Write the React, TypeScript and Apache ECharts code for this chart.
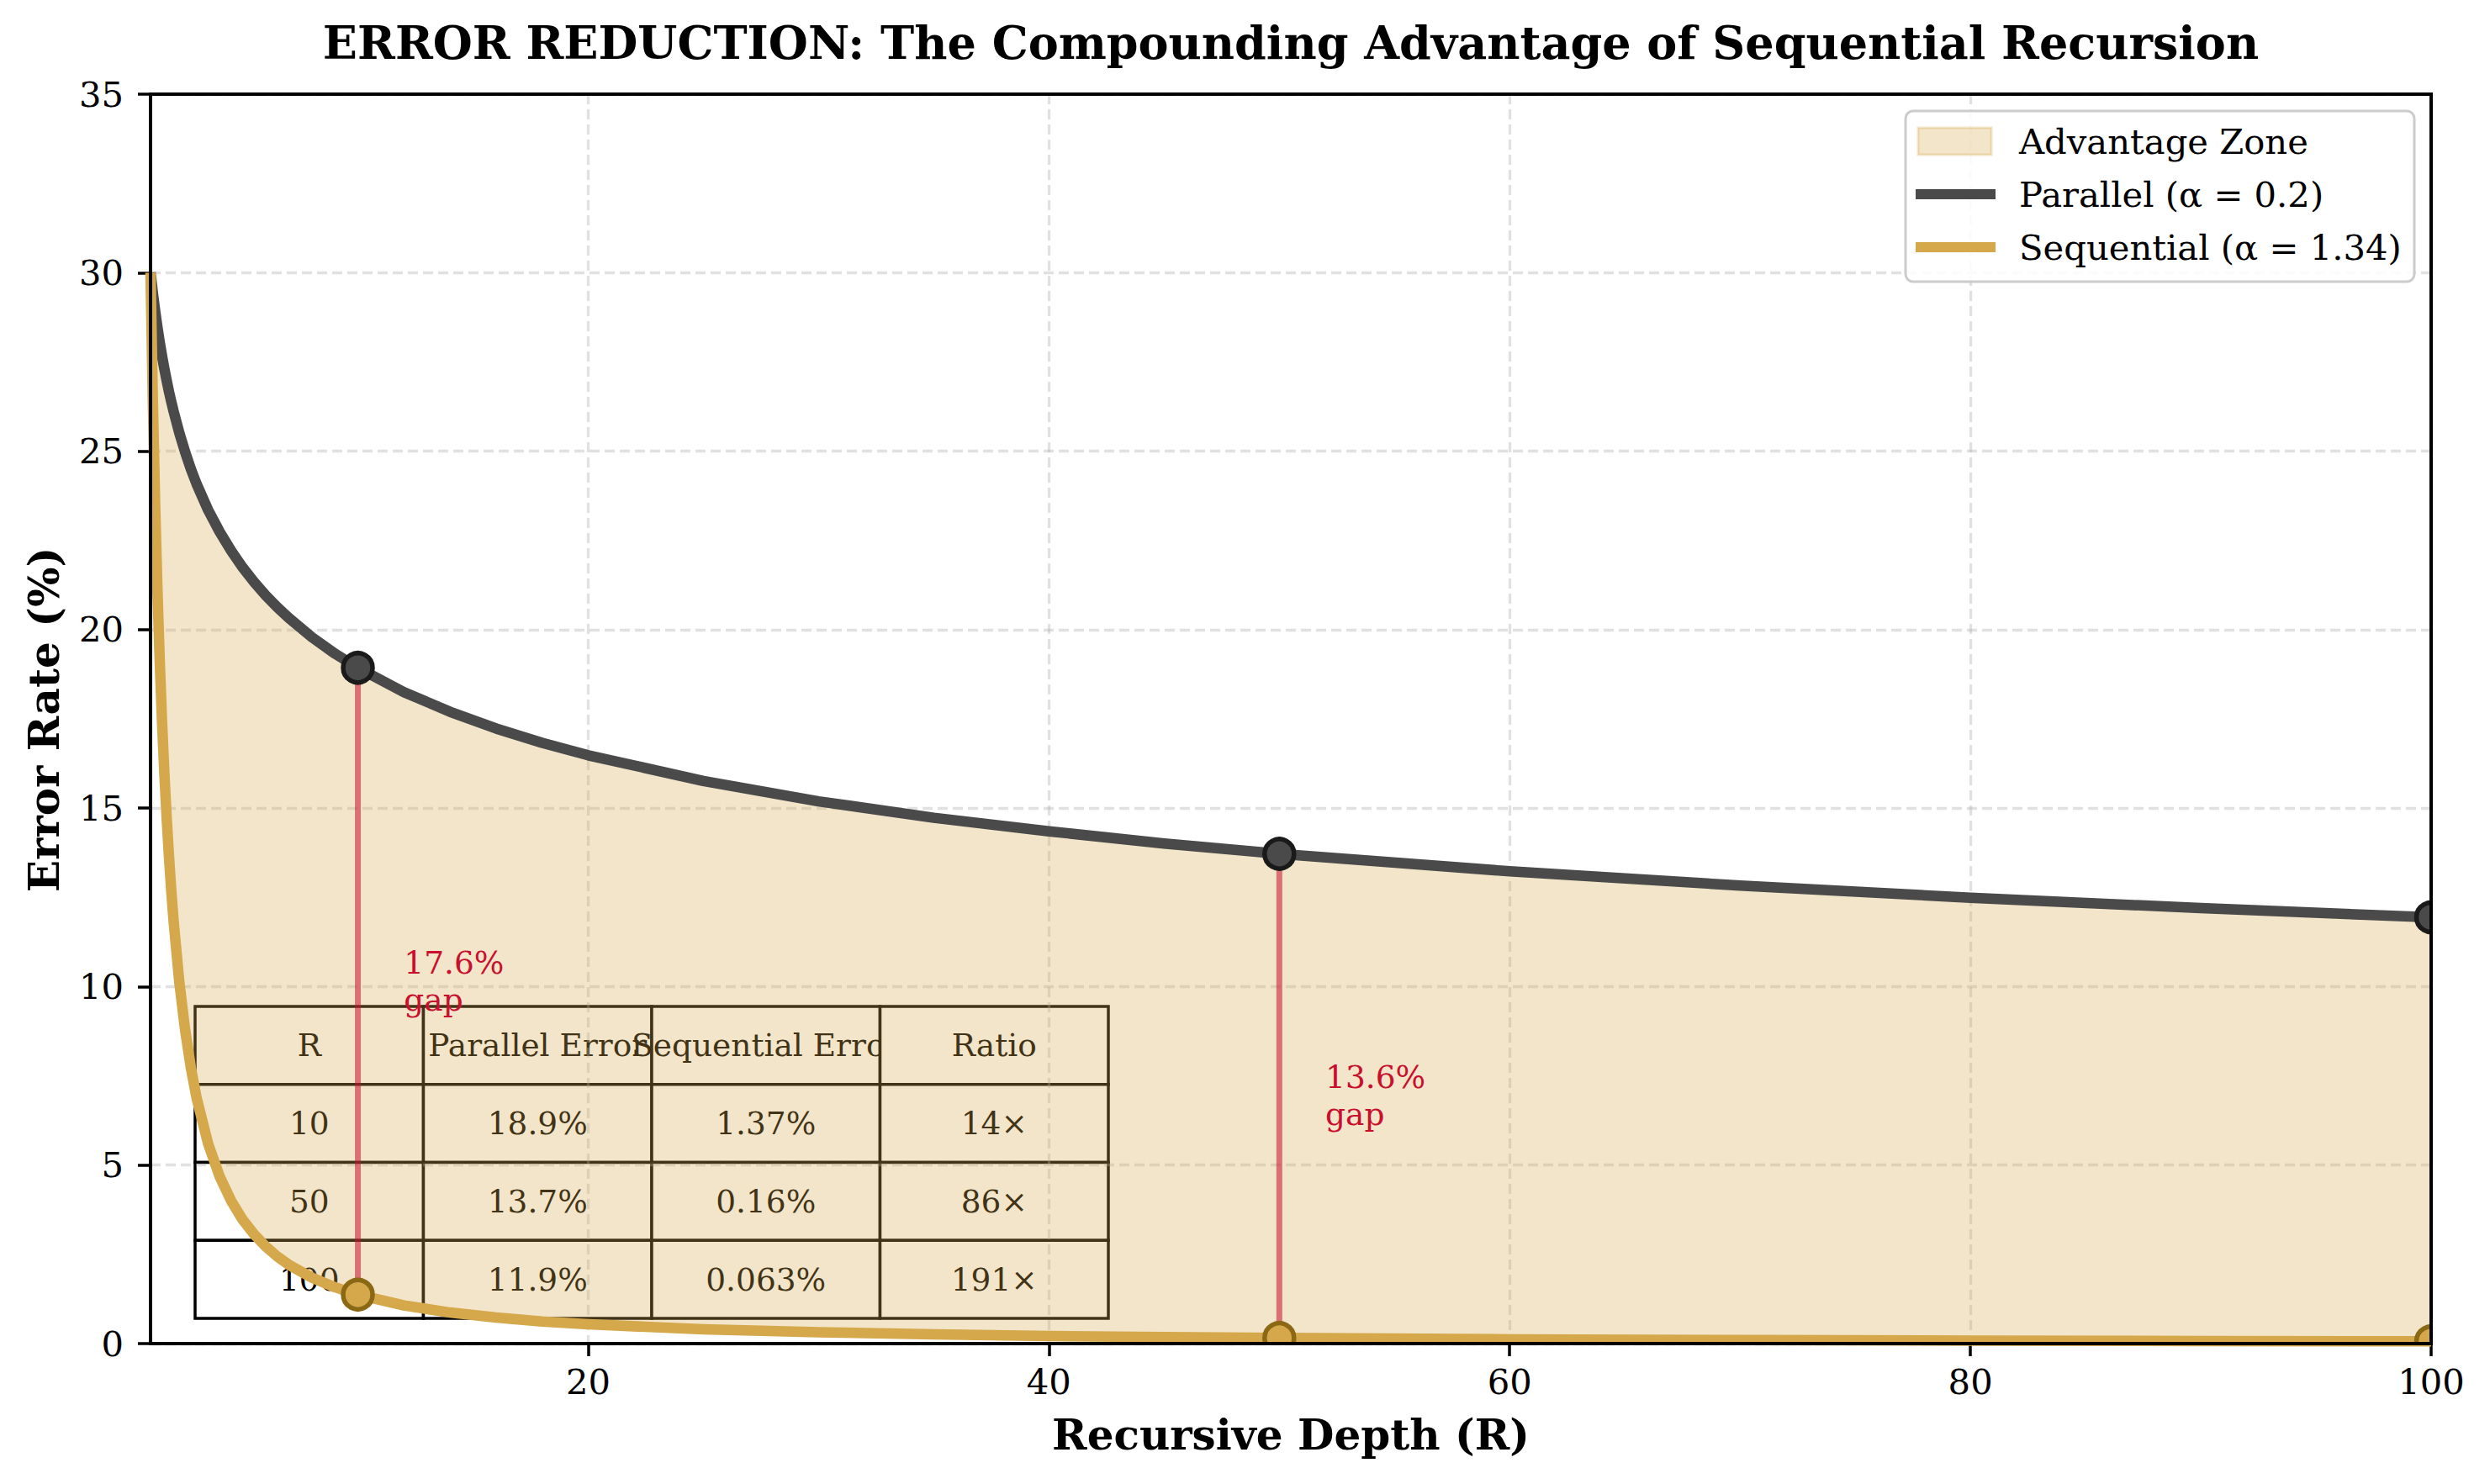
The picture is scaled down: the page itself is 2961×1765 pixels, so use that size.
import React, { useEffect, useRef } from "react";
import * as echarts from "echarts";

// Recursive depth samples and error rates (%)
const depth = [1, 1.1, 1.2, 1.3, 1.4, 1.5, 1.6, 1.7, 1.8, 1.9, 2, 2.25, 2.5, 2.75, 3, 3.5, 4, 4.5, 5, 5.5, 6, 6.5, 7, 8, 9, 10, 12, 14, 16, 18, 20, 25, 30, 35, 40, 45, 50, 60, 70, 80, 90, 100];
const parallelErr = [30, 29.43, 28.93, 28.47, 28.05, 27.66, 27.31, 26.98, 26.67, 26.39, 26.12, 25.51, 24.98, 24.5, 24.08, 23.35, 22.74, 22.21, 21.74, 21.33, 20.96, 20.63, 20.33, 19.79, 19.33, 18.93, 18.25, 17.7, 17.23, 16.83, 16.48, 15.76, 15.19, 14.73, 14.35, 14.01, 13.72, 13.23, 12.83, 12.49, 12.2, 11.94];
const sequentialErr = [30, 26.4, 23.5, 21.11, 19.11, 17.42, 15.98, 14.73, 13.65, 12.69, 11.85, 10.12, 8.79, 7.73, 6.88, 5.6, 4.68, 4.0, 3.47, 3.06, 2.72, 2.44, 2.21, 1.85, 1.58, 1.37, 1.07, 0.87, 0.73, 0.62, 0.54, 0.4, 0.32, 0.26, 0.21, 0.18, 0.16, 0.12, 0.1, 0.085, 0.072, 0.063];

// Highlighted depths
const markDepth = [10, 50, 100];
const markParallel = [18.93, 13.72, 11.94];
const markSequential = [1.37, 0.16, 0.063];

// Gap annotations
const gapDepth = [10, 50];
const gapLabelX = [12, 52];
const gapLabels = ["17.6%\ngap", "13.6%\ngap"];

// Table
const tableHeader = ["R", "Parallel Error", "Sequential Error", "Ratio"];
const tableRows = [
  ["10", "18.9%", "1.37%", "14×"],
  ["50", "13.7%", "0.16%", "86×"],
  ["100", "11.9%", "0.063%", "191×"],
];

const yTicks = [0, 5, 10, 15, 20, 25, 30, 35];
const xTicks = [20, 40, 60, 80, 100];

const FONT = "DejaVu Serif";
const GOLD = "#d4a84b";
const GRAY = "#4a4a4a";
const CRIMSON = "#c8102e";

export default function App() {
  const ref = useRef<HTMLDivElement>(null);
  useEffect(() => {
    document.body.style.margin = "0";
    const chart = echarts.init(ref.current!, null, { renderer: "svg" });

    const gridLeft = 179, gridTop = 112, gridW = 2712, gridH = 1486;

    // table graphics
    const tbl: any[] = [];
    const tx0 = 232, ty0 = 1197, cw = 271.5, rh = 92.75;
    let z2 = 0;
    const allRows = [tableHeader, ...tableRows];
    allRows.forEach((row, ri) => {
      row.forEach((cell, ci) => {
        tbl.push({
          type: "rect", z: -1, z2: z2++, silent: true,
          shape: { x: tx0 + ci * cw, y: ty0 + ri * rh, width: cw, height: rh },
          style: { fill: "#ffffff", stroke: "#000000", lineWidth: 3.5 },
        });
        tbl.push({
          type: "text", z: -1, z2: z2++, silent: true,
          x: tx0 + ci * cw + cw / 2, y: ty0 + ri * rh + rh / 2,
          style: { text: cell, fill: "#000000", font: `37.5px "${FONT}"`, align: "center", verticalAlign: "middle" },
        });
      });
    });

    const legendX = 2266, legendY = 132;
    const legendItems = [
      { label: "Advantage Zone", kind: "patch", y: 168 },
      { label: "Parallel (α = 0.2)", kind: "line", color: GRAY, y: 231 },
      { label: "Sequential (α = 1.34)", kind: "line", color: GOLD, y: 294 },
    ];
    const legendEls: any[] = [
      {
        type: "rect", z: 100, silent: true,
        shape: { x: legendX, y: legendY, width: 605, height: 203, r: 9 },
        style: { fill: "rgba(255,255,255,0.85)", stroke: "#cccccc", lineWidth: 3 },
      },
    ];
    legendItems.forEach((it) => {
      if (it.kind === "patch") {
        legendEls.push({
          type: "rect", z: 101, silent: true,
          shape: { x: 2281, y: it.y - 16, width: 87, height: 32 },
          style: { fill: "rgba(212,168,75,0.3)", stroke: "rgba(212,168,75,0.3)", lineWidth: 3 },
        });
      } else {
        legendEls.push({
          type: "rect", z: 101, silent: true,
          shape: { x: 2278, y: it.y - 6, width: 95, height: 12 },
          style: { fill: it.color },
        });
      }
      legendEls.push({
        type: "text", z: 101, silent: true, x: 2401, y: it.y,
        style: { text: it.label, fill: "#000", font: `41.7px "${FONT}"`, align: "left", verticalAlign: "middle" },
      });
    });

    const option: any = {
      animation: false,
      backgroundColor: "#ffffff",
      textStyle: { fontFamily: FONT },
      grid: {
        left: gridLeft, top: gridTop, width: gridW, height: gridH,
        show: false,
      },
      xAxis: {
        type: "value", min: 1, max: 100, splitNumber: 5,
        axisLine: { show: false },
        axisTick: { show: true, customValues: xTicks, length: 15, lineStyle: { color: "#000", width: 3.5 } },
        axisLabel: { customValues: xTicks, color: "#000", fontSize: 41.7, fontFamily: FONT, margin: 24 },
        splitLine: { show: true, lineStyle: { color: "rgba(170,170,170,0.35)", width: 3.3, type: [12, 6] } },
      },
      yAxis: {
        type: "value", min: 0, max: 35, interval: 5,
        axisLine: { show: false },
        axisTick: { show: true, customValues: yTicks, length: 15, lineStyle: { color: "#000", width: 3.5 } },
        axisLabel: { color: "#000", fontSize: 41.7, fontFamily: FONT, margin: 32 },
        splitLine: { show: true, lineStyle: { color: "rgba(170,170,170,0.35)", width: 3.3, type: [12, 6] } },
      },
      graphic: [
        {
          type: "rect", z: 50, silent: true,
          shape: { x: gridLeft, y: gridTop, width: gridW, height: gridH },
          style: { fill: "none", stroke: "#000000", lineWidth: 4 },
        },
        {
          type: "text", z: 100, silent: true, x: 1535, y: 51,
          style: { text: "ERROR REDUCTION: The Compounding Advantage of Sequential Recursion", fill: "#000", font: `bold 54px "${FONT}"`, align: "center", verticalAlign: "middle" },
        },
        {
          type: "text", z: 100, silent: true, x: 1535, y: 1706,
          style: { text: "Recursive Depth (R)", fill: "#000", font: `bold 50px "${FONT}"`, align: "center", verticalAlign: "middle" },
        },
        {
          type: "text", z: 100, silent: true, x: 52, y: 856, rotation: Math.PI / 2,
          style: { text: "Error Rate (%)", fill: "#000", font: `bold 50px "${FONT}"`, align: "center", verticalAlign: "middle" },
        },
        ...tbl,
        ...legendEls,
      ],
      series: [
        {
          name: "Advantage Zone",
          type: "custom",
          coordinateSystem: "cartesian2d",
          clip: true,
          z: 2,
          silent: true,
          data: [[depth[0], parallelErr[0]]],
          renderItem: (params: any, api: any) => {
            const pts: number[][] = [];
            for (let i = 0; i < depth.length; i++) pts.push(api.coord([depth[i], parallelErr[i]]));
            for (let i = depth.length - 1; i >= 0; i--) pts.push(api.coord([depth[i], sequentialErr[i]]));
            return { type: "polygon", shape: { points: pts }, style: { fill: "rgba(212,168,75,0.3)" } };
          },
        },
        {
          name: "gap lines",
          type: "custom",
          coordinateSystem: "cartesian2d",
          clip: true,
          z: 3,
          silent: true,
          data: gapDepth.map((d) => [d, markSequential[markDepth.indexOf(d)], markParallel[markDepth.indexOf(d)]]),
          renderItem: (params: any, api: any) => {
            const a = api.coord([api.value(0), api.value(1)]);
            const b = api.coord([api.value(0), api.value(2)]);
            return {
              type: "line",
              shape: { x1: a[0], y1: a[1], x2: b[0], y2: b[1] },
              style: { stroke: "rgba(200,16,46,0.55)", lineWidth: 7 },
            };
          },
        },
        {
          name: "gap labels",
          type: "custom",
          coordinateSystem: "cartesian2d",
          z: 3,
          silent: true,
          data: gapDepth.map((d, i) => {
            const k = markDepth.indexOf(d);
            return [gapLabelX[i], (markParallel[k] + markSequential[k]) / 2];
          }),
          renderItem: (params: any, api: any) => {
            const p = api.coord([api.value(0), api.value(1)]);
            return {
              type: "text",
              x: p[0], y: p[1],
              style: {
                text: gapLabels[params.dataIndex], fill: CRIMSON,
                font: `37.5px "${FONT}"`, lineHeight: 44,
                align: "left", verticalAlign: "middle",
              },
            };
          },
        },
        {
          name: "Parallel (α = 0.2)",
          type: "line",
          z: 4,
          clip: true,
          silent: true,
          symbol: "none",
          showSymbol: false,
          data: depth.map((d, i) => [d, parallelErr[i]]),
          lineStyle: { color: GRAY, width: 12.5, join: "round", cap: "butt" },
        },
        {
          name: "Sequential (α = 1.34)",
          type: "line",
          z: 5,
          clip: true,
          silent: true,
          symbol: "none",
          showSymbol: false,
          data: depth.map((d, i) => [d, sequentialErr[i]]),
          lineStyle: { color: GOLD, width: 12.5, join: "round", cap: "butt" },
        },
        {
          name: "parallel markers",
          type: "custom",
          coordinateSystem: "cartesian2d",
          clip: true,
          z: 6,
          silent: true,
          data: markDepth.map((d, i) => [d, markParallel[i]]),
          renderItem: (params: any, api: any) => {
            const p = api.coord([api.value(0), api.value(1)]);
            return { type: "circle", shape: { cx: p[0], cy: p[1], r: 17.5 }, style: { fill: GRAY, stroke: "#1a1a1a", lineWidth: 5.5 } };
          },
        },
        {
          name: "sequential markers",
          type: "custom",
          coordinateSystem: "cartesian2d",
          clip: true,
          z: 7,
          silent: true,
          data: markDepth.map((d, i) => [d, markSequential[i]]),
          renderItem: (params: any, api: any) => {
            const p = api.coord([api.value(0), api.value(1)]);
            return { type: "circle", shape: { cx: p[0], cy: p[1], r: 17.5 }, style: { fill: GOLD, stroke: "#8b6914", lineWidth: 5.5 } };
          },
        },
      ],
    };
    chart.setOption(option);
    return () => chart.dispose();
  }, []);
  return <div ref={ref} style={{ width: 2961, height: 1765 }} />;
}
